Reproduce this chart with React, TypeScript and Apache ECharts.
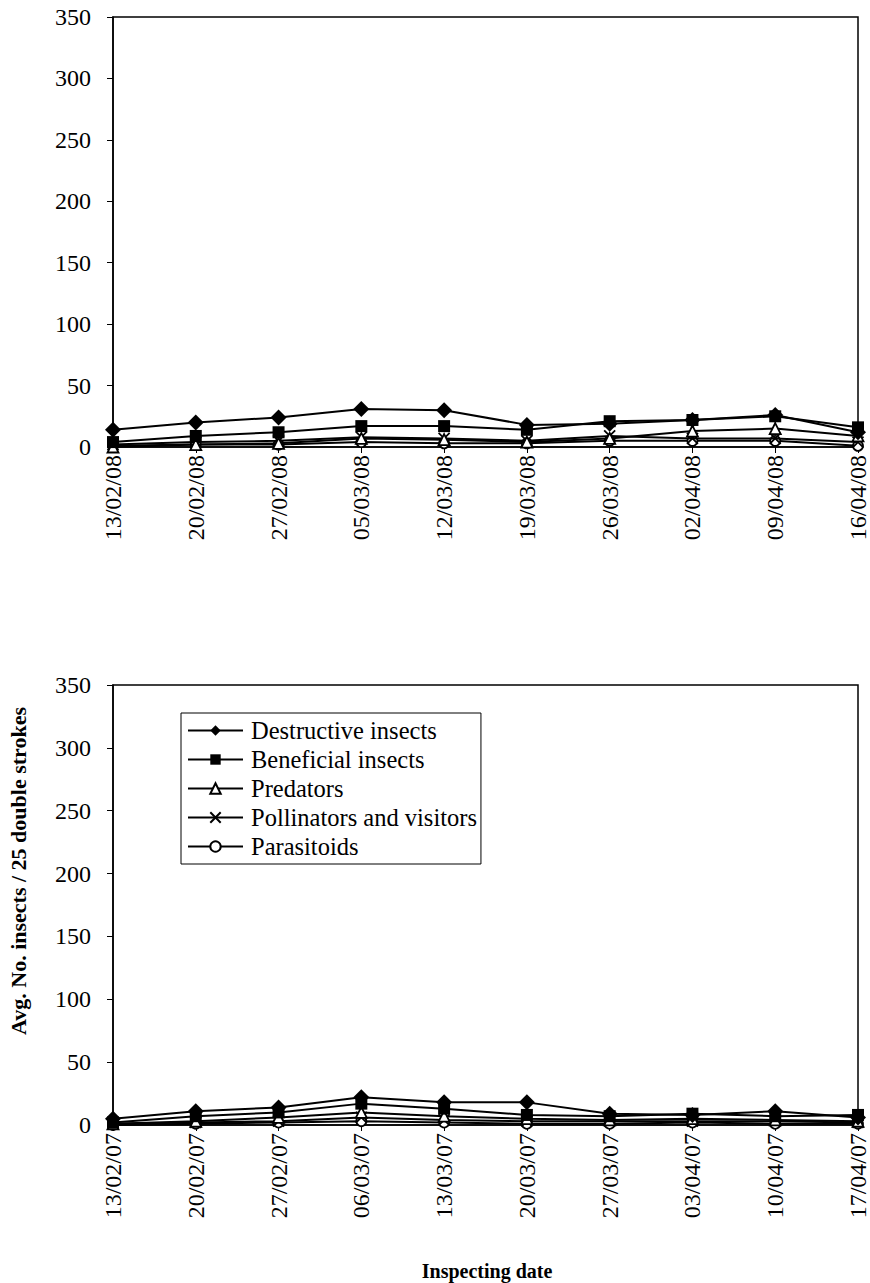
import React, { useEffect, useRef } from "react";
import * as echarts from "echarts";

const dates2008 = ["13/02/08", "20/02/08", "27/02/08", "05/03/08", "12/03/08", "19/03/08", "26/03/08", "02/04/08", "09/04/08", "16/04/08"];
const destructive2008 = [14, 20, 24, 31, 30, 18, 19, 22, 26, 12];
const beneficial2008 = [4, 9, 12, 17, 17, 14, 21, 22, 25, 16];
const predators2008 = [0, 2, 3, 7, 6, 4, 7, 13, 15, 9];
const pollinators2008 = [2, 4, 5, 8, 7, 5, 9, 7, 7, 4];
const parasitoids2008 = [1, 2, 2, 4, 3, 3, 5, 5, 5, 1];

const dates2007 = ["13/02/07", "20/02/07", "27/02/07", "06/03/07", "13/03/07", "20/03/07", "27/03/07", "03/04/07", "10/04/07", "17/04/07"];
const destructive2007 = [5, 11, 14, 22, 18, 18, 9, 8, 11, 6];
const beneficial2007 = [2, 7, 10, 17, 13, 8, 7, 9, 7, 8];
const predators2007 = [1, 3, 6, 10, 7, 5, 4, 5, 4, 3];
const pollinators2007 = [1, 2, 3, 6, 4, 3, 3, 3, 3, 2];
const parasitoids2007 = [0, 1, 2, 3, 2, 1, 1, 2, 1, 1];

const seriesNames = ["Destructive insects", "Beneficial insects", "Predators", "Pollinators and visitors", "Parasitoids"];
const yTicks = [0, 50, 100, 150, 200, 250, 300, 350];

const FONT = "Liberation Serif";

const symbols = [
  { symbol: "diamond", size: 16, fill: "#000" },
  { symbol: "rect", size: 12, fill: "#000" },
  { symbol: "triangle", size: 11, fill: "#fff" },
  { symbol: "path://M0 0 L10 10 M10 0 L0 10", size: 11, fill: "none" },
  { symbol: "circle", size: 10, fill: "#fff" },
];

export default function App() {
  const ref = useRef<HTMLDivElement>(null);
  useEffect(() => {
    if (!ref.current) return;
    const chart = echarts.init(ref.current, null, { renderer: "svg" });
    const top = [destructive2008, beneficial2008, predators2008, pollinators2008, parasitoids2008];
    const bottom = [destructive2007, beneficial2007, predators2007, pollinators2007, parasitoids2007];

    const mkSeries = (data: number[], i: number, idx: number) => ({
      name: seriesNames[i],
      type: "line",
      xAxisIndex: idx,
      yAxisIndex: idx,
      data,
      symbol: symbols[i].symbol,
      symbolSize: symbols[i].size,
      showAllSymbol: true,
      lineStyle: { color: "#000", width: 2 },
      itemStyle: { color: symbols[i].fill, borderColor: "#000", borderWidth: i < 2 ? 0 : 1.8 },
      z: 10 - i,
    });

    const labelText = { fontFamily: FONT, fontSize: 24, color: "#000" };

    const xAxisCommon = {
      type: "category",
      boundaryGap: false,
      axisLine: { lineStyle: { color: "#000", width: 1.5 } },
      axisTick: { show: true, length: 6, lineStyle: { color: "#000", width: 1 } },
      axisLabel: { ...labelText, rotate: 90, margin: 8, interval: 0 },
      splitLine: { show: false },
    };
    const yAxisCommon = {
      type: "value",
      min: yTicks[0],
      max: yTicks[yTicks.length - 1],
      interval: 50,
      axisLine: { show: true, lineStyle: { color: "#000", width: 1.5 } },
      axisTick: { show: true, length: 6, lineStyle: { color: "#000", width: 1 } },
      axisLabel: { ...labelText, margin: 22 },
      splitLine: { show: false },
    };

    chart.setOption({
      animation: false,
      backgroundColor: "#fff",
      textStyle: { fontFamily: FONT },
      grid: [
        { left: 113, top: 17, width: 749, height: 430, show: true, borderColor: "#000", borderWidth: 1.5, backgroundColor: "transparent" },
        { left: 113, top: 685, width: 749, height: 440, show: true, borderColor: "#000", borderWidth: 1.5, backgroundColor: "transparent" },
      ],
      xAxis: [
        { ...xAxisCommon, gridIndex: 0, data: dates2008 },
        { ...xAxisCommon, gridIndex: 1, data: dates2007 },
      ],
      yAxis: [
        { ...yAxisCommon, gridIndex: 0 },
        { ...yAxisCommon, gridIndex: 1 },
      ],
      legend: {
        show: true,
        orient: "vertical",
        left: 181,
        top: 713,
        data: seriesNames,
        itemWidth: 55,
        itemHeight: 13,
        itemGap: 4,
        padding: [5, 4, 5, 6],
        borderColor: "#000",
        borderWidth: 1,
        backgroundColor: "#fff",
        selectedMode: false,
        textStyle: { ...labelText, fontSize: 24.5, padding: [0, 0, 0, 3] },
      },
      graphic: [
        {
          type: "text",
          rotation: Math.PI / 2,
          x: 18,
          y: 871,
          style: {
            text: "Avg. No. insects / 25 double strokes",
            font: "bold 22px Liberation Serif",
            fill: "#000",
            textAlign: "center",
            textVerticalAlign: "middle",
          },
        },
        {
          type: "text",
          x: 487,
          y: 1271,
          style: {
            text: "Inspecting date",
            font: "bold 20px Liberation Serif",
            fill: "#000",
            textAlign: "center",
            textVerticalAlign: "middle",
          },
        },
      ],
      series: [
        ...top.map((d, i) => mkSeries(d, i, 0)),
        ...bottom.map((d, i) => mkSeries(d, i, 1)),
      ],
    });
    return () => chart.dispose();
  }, []);
  return <div ref={ref} style={{ position: "absolute", left: 0, top: 0, width: 870, height: 1283 }} />;
}
